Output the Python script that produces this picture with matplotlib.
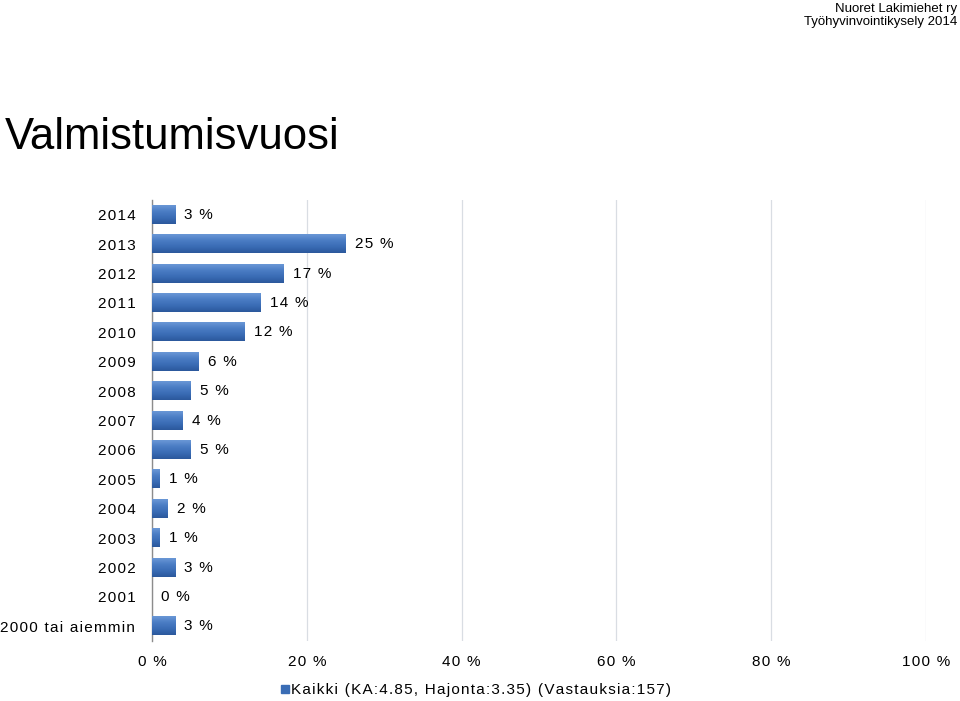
import numpy as np
import matplotlib.pyplot as plt
from matplotlib.colors import LinearSegmentedColormap

plt.rcParams['font.family'] = ['Liberation Sans', 'DejaVu Sans']

years = ['2014', '2013', '2012', '2011', '2010', '2009', '2008', '2007', '2006',
         '2005', '2004', '2003', '2002', '2001', '2000 tai aiemmin']
shares = [3, 25, 17, 14, 12, 6, 5, 4, 5, 1, 2, 1, 3, 0, 3]
xticks = [0, 20, 40, 60, 80, 100]
legend_text = 'Kaikki (KA:4.85, Hajonta:3.35) (Vastauksia:157)'

# the original uses wide letter spacing; fake it with hair spaces
spaced = lambda s: '\u200a'.join(s)

fig = plt.figure(figsize=(9.6, 7.01), dpi=100)
ax = fig.add_axes([0.1583, 0.0856, 0.8063, 0.629])

bar_cmap = LinearSegmentedColormap.from_list('bar', ['#2b589c', '#3a6cb5', '#4a7cc4', '#6a97d6'])
grad = np.linspace(0, 1, 50).reshape(-1, 1)
h = 0.62
pos = list(range(len(years)))[::-1]
for p, v in zip(pos, shares):
    if v > 0:
        ax.imshow(grad, extent=[0, v, p - h / 2, p + h / 2], aspect='auto', cmap=bar_cmap,
                  origin='lower', zorder=3, interpolation='bicubic')
    ax.text(v + 1.2, p, spaced(f'{v} %'), va='center', ha='left', fontsize=11, color='#000000')

ax.set_xlim(0, 100)
ax.set_ylim(-0.5, len(years) - 0.5)
ax.set_xticks(xticks)
ax.set_xticklabels([spaced(f'{t} %') for t in xticks], fontsize=11)
ax.set_yticks(pos)
ax.set_yticklabels([spaced(y) for y in years], fontsize=11)
ax.tick_params(axis='both', length=0)
ax.tick_params(axis='x', pad=10)
ax.tick_params(axis='y', pad=12)
ax.grid(axis='x', color='#d9dde3', linewidth=0.9, zorder=0)
for s in ['top', 'right', 'bottom']:
    ax.spines[s].set_visible(False)
ax.spines['left'].set_color('#8c8c8c')
ax.spines['left'].set_linewidth(1.0)

fig.text(0.005, 0.804, 'Valmistumisvuosi', fontsize=31.5, va='center', ha='left')
fig.text(0.997, 0.987, 'Nuoret Lakimiehet ry', fontsize=9.5, ha='right', va='center')
fig.text(0.997, 0.969, 'Työhyvinvointikysely 2014', fontsize=9.5, ha='right', va='center')

fig.patches.append(plt.Rectangle((0.2927, 0.0116), 0.0083, 0.0114, transform=fig.transFigure,
                                 color='#3a6db5', figure=fig))
fig.text(0.303, 0.0157, spaced(legend_text), fontsize=11, ha='left', va='center')

fig.savefig('out.png', dpi=100)
